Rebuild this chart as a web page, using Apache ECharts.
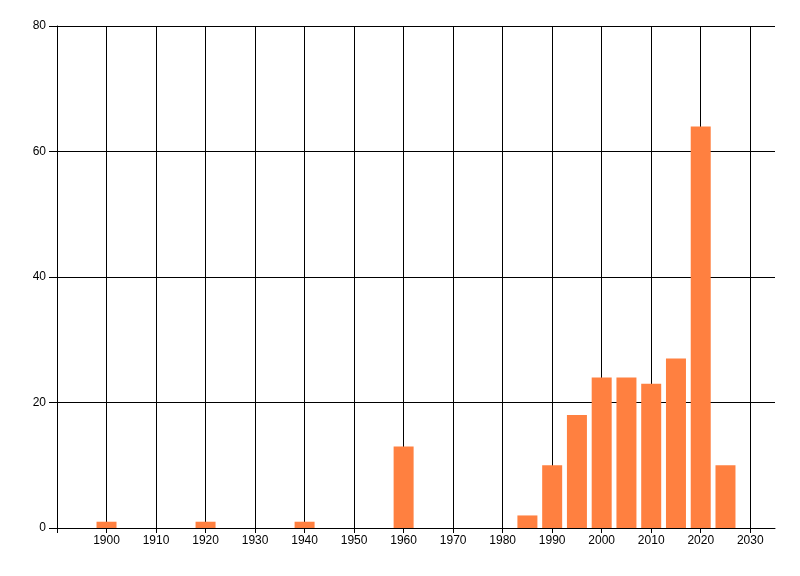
<!DOCTYPE html>
<html>
<head>
<meta charset="utf-8">
<script src="https://cdn.jsdelivr.net/npm/echarts@6/dist/echarts.min.js"></script>
<style>html,body{margin:0;padding:0;background:#fff;}#c{width:800px;height:576px;}</style>
</head>
<body>
<div id="c"></div>
<script>
const years = [1900, 1920, 1940, 1960, 1985, 1990, 1995, 2000, 2005, 2010, 2015, 2020, 2025];
const counts = [1, 1, 1, 13, 2, 10, 18, 24, 24, 23, 27, 64, 10];
const xTicks = [1890, 1900, 1910, 1920, 1930, 1940, 1950, 1960, 1970, 1980, 1990, 2000, 2010, 2020, 2030];
const xLabels = [1900, 1910, 1920, 1930, 1940, 1950, 1960, 1970, 1980, 1990, 2000, 2010, 2020, 2030];
const yTicks = [0, 20, 40, 60, 80];

const chart = echarts.init(document.getElementById('c'), null, {renderer: 'canvas'});
const font = 'Liberation Sans, Arial, sans-serif';
chart.setOption({
  animation: false,
  backgroundColor: '#ffffff',
  grid: {left: 57, right: 25, top: 26, bottom: 48, containLabel: false},
  xAxis: {
    type: 'value', min: 1890, max: 2035,
    axisLine: {show: true, onZero: false, lineStyle: {color: '#000', width: 1}},
    axisTick: {show: true, length: 5, customValues: xTicks, lineStyle: {color: '#000'}},
    axisLabel: {customValues: xLabels, formatter: v => String(v), color: '#000', fontSize: 12, fontFamily: font, margin: 7},
    splitLine: {show: true, lineStyle: {color: '#000', width: 1}}
  },
  yAxis: {
    type: 'value', min: 0, max: 80, interval: 20,
    axisLine: {show: true, lineStyle: {color: '#000', width: 1}},
    axisTick: {show: true, length: 8, customValues: yTicks, lineStyle: {color: '#000'}},
    axisLabel: {customValues: yTicks, formatter: v => String(v), color: '#000', fontSize: 12, fontFamily: font, margin: 11},
    splitLine: {show: true, lineStyle: {color: '#000', width: 1}}
  },
  series: [{
    type: 'bar',
    barWidth: 20,
    itemStyle: {color: '#ff8040'},
    data: years.map((y, i) => [y, counts[i]])
  }]
});
</script>
</body>
</html>
